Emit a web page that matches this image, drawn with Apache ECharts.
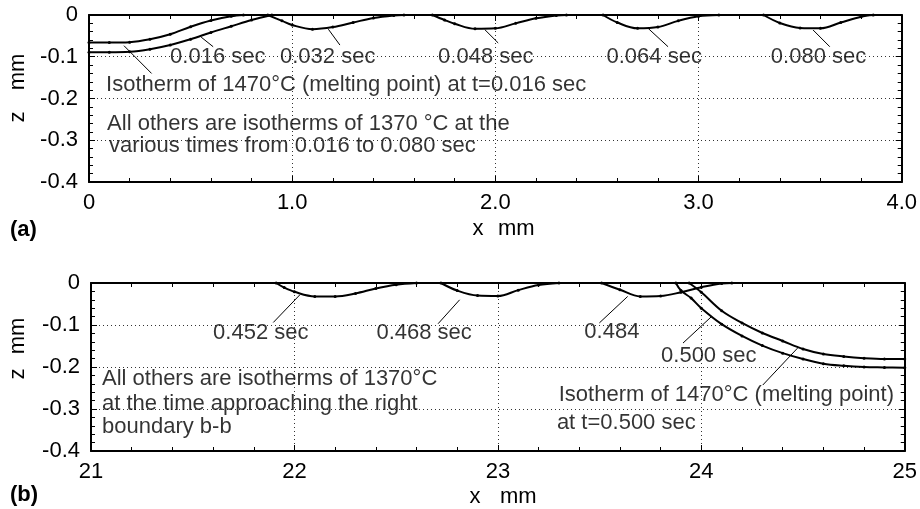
<!DOCTYPE html>
<html>
<head>
<meta charset="utf-8">
<script src="https://cdn.jsdelivr.net/npm/echarts@6/dist/echarts.min.js"></script>
<style>
html, body { margin: 0; padding: 0; background: #fff; }
#main { width: 920px; height: 509px; }
</style>
</head>
<body>
<div id="main"></div>
<script>
// tick labels
var xLabelsA = ['0', '1.0', '2.0', '3.0', '4.0'];
var xLabelsB = ['21', '22', '23', '24', '25'];
var zLabels = ['0', '-0.1', '-0.2', '-0.3', '-0.4'];

// panel (a): [x mm, z mm]
var a1470_016 = [[0, -0.066], [0.1, -0.066], [0.2, -0.065], [0.3, -0.058], [0.4, -0.046], [0.5, -0.028], [0.6, -0.013], [0.7, -0.003], [0.76, 0]];
var a1370_016 = [[0, -0.089], [0.1, -0.089], [0.2, -0.088], [0.3, -0.082], [0.4, -0.072], [0.5, -0.058], [0.6, -0.042], [0.7, -0.027], [0.8, -0.012], [0.9, 0]];
var a1370_032 = [[0.88, 0], [0.95, -0.014], [1.0, -0.024], [1.1, -0.034], [1.2, -0.029], [1.3, -0.018], [1.4, -0.007], [1.5, -0.001], [1.55, 0]];
var a1370_048 = [[1.69, 0], [1.75, -0.012], [1.8, -0.021], [1.9, -0.033], [2.0, -0.032], [2.1, -0.020], [2.2, -0.008], [2.3, -0.001], [2.35, 0]];
var a1370_064 = [[2.53, 0], [2.6, -0.018], [2.7, -0.032], [2.8, -0.029], [2.9, -0.014], [3.0, -0.003], [3.1, 0]];
var a1370_080 = [[3.32, 0], [3.4, -0.019], [3.5, -0.031], [3.6, -0.032], [3.7, -0.018], [3.8, -0.004], [3.86, 0]];

// panel (b)
var b1370_452 = [[21.91, 0], [21.95, -0.011], [22.0, -0.021], [22.1, -0.032], [22.2, -0.032], [22.3, -0.025], [22.4, -0.013], [22.5, -0.004], [22.6, 0]];
var b1370_468 = [[22.72, 0], [22.8, -0.018], [22.9, -0.030], [23.0, -0.031], [23.1, -0.017], [23.2, -0.005], [23.3, 0]];
var b1370_484 = [[23.51, 0], [23.6, -0.016], [23.7, -0.032], [23.8, -0.031], [23.9, -0.022], [24.0, -0.010], [24.1, -0.001], [24.15, 0]];
var b1370_500 = [[23.875, 0], [23.9, -0.018], [23.95, -0.036], [24.0, -0.060], [24.1, -0.098], [24.2, -0.126], [24.3, -0.149], [24.4, -0.167], [24.5, -0.181], [24.6, -0.192], [24.7, -0.197], [24.8, -0.200], [24.9, -0.201], [25.0, -0.202]];
var b1470_500 = [[23.94, 0], [24.0, -0.022], [24.1, -0.066], [24.2, -0.095], [24.3, -0.119], [24.4, -0.138], [24.5, -0.157], [24.6, -0.169], [24.7, -0.175], [24.8, -0.179], [24.9, -0.181], [25.0, -0.181]];

// leader lines (data coords)
var leadersA = [
  [[0.172, -0.0735], [0.308, -0.140]],
  [[0.552, -0.053], [0.611, -0.076]],
  [[1.178, -0.034], [1.235, -0.072]],
  [[1.948, -0.035], [2.014, -0.067]],
  [[2.752, -0.032], [2.850, -0.076]],
  [[3.564, -0.036], [3.646, -0.076]]
];
var leadersB = [
  [[21.896, -0.094], [22.027, -0.028]],
  [[22.706, -0.097], [22.812, -0.040]],
  [[23.499, -0.095], [23.638, -0.032]],
  [[23.910, -0.143], [24.050, -0.080]],
  [[24.302, -0.243], [24.473, -0.155]]
];

// annotations: [x, z, text]
var notesA = [
  [0.399, -0.0994, '0.016 sec'],
  [0.940, -0.0994, '0.032 sec'],
  [1.718, -0.0994, '0.048 sec'],
  [2.547, -0.0994, '0.064 sec'],
  [3.356, -0.0994, '0.080 sec'],
  [0.084, -0.168, 'Isotherm of 1470°C (melting point) at t=0.016 sec'],
  [0.089, -0.261, 'All others are isotherms of 1370 °C at the'],
  [0.098, -0.314, 'various times from 0.016 to 0.080 sec']
];
var notesB = [
  [21.600, -0.1185, '0.452 sec'],
  [22.403, -0.1185, '0.468 sec'],
  [23.425, -0.1155, '0.484'],
  [23.802, -0.1735, '0.500 sec'],
  [23.299, -0.266, 'Isotherm of 1470°C (melting point)'],
  [23.290, -0.334, 'at t=0.500 sec'],
  [21.054, -0.2295, 'All others are isotherms of 1370°C'],
  [21.054, -0.288, 'at the time approaching the right'],
  [21.054, -0.343, 'boundary b-b']
];

var FONT = '"Liberation Sans", Arial, Helvetica, sans-serif';
var INK = '#000';

function xAxisOf(grid, min, max, labels, pos) {
  return {
    type: 'value', gridIndex: grid, min: min, max: max, interval: 1, position: pos,
    axisLine: { show: true, onZero: false, lineStyle: { color: INK, width: 2 } },
    axisTick: { show: true, inside: true, length: 6, lineStyle: { color: INK } },
    minorTick: { show: true, splitNumber: 5, length: 4, lineStyle: { color: INK } },
    splitLine: { show: pos === 'bottom', lineStyle: { color: '#333', type: [1, 3], width: 1 } },
    axisLabel: {
      show: pos === 'bottom', margin: 10, color: INK, fontSize: 22, fontFamily: FONT,
      formatter: function (v) { return labels[Math.round(v - min)]; }
    }
  };
}
function yAxisOf(grid, pos) {
  return {
    type: 'value', gridIndex: grid, min: -0.4, max: 0, interval: 0.1, position: pos,
    axisLine: { show: true, onZero: false, lineStyle: { color: INK, width: 2 } },
    axisTick: { show: true, inside: true, length: 6, lineStyle: { color: INK } },
    minorTick: { show: true, splitNumber: 5, length: 4, lineStyle: { color: INK } },
    splitLine: { show: pos === 'left', lineStyle: { color: '#333', type: [1, 3], width: 1 } },
    axisLabel: {
      show: pos === 'left', margin: 11, color: INK, fontSize: 22, fontFamily: FONT,
      formatter: function (v) { return zLabels[Math.round(-v * 10)]; }
    }
  };
}

function curve(data, g) {
  return {
    type: 'line', xAxisIndex: g * 2, yAxisIndex: g * 2, data: data, smooth: 0.35,
    symbol: 'circle', symbolSize: 3, showSymbol: true,
    itemStyle: { color: INK }, lineStyle: { color: INK, width: 2 },
    silent: true, z: 3
  };
}
function leader(seg, g) {
  return {
    type: 'line', xAxisIndex: g * 2, yAxisIndex: g * 2, data: seg, showSymbol: false,
    lineStyle: { color: INK, width: 1 }, silent: true, z: 3
  };
}
function notes(list, g) {
  return {
    type: 'scatter', xAxisIndex: g * 2, yAxisIndex: g * 2, symbolSize: 0, silent: true, z: 4,
    data: list.map(function (n) { return { value: [n[0], n[1]], name: n[2] }; }),
    label: {
      show: true, position: 'inside', align: 'left', verticalAlign: 'middle',
      color: INK, fontSize: 22, fontFamily: FONT,
      formatter: function (p) { return p.name; }
    }
  };
}

var series = [];
[a1470_016, a1370_016, a1370_032, a1370_048, a1370_064, a1370_080].forEach(function (d) { series.push(curve(d, 0)); });
[b1370_452, b1370_468, b1370_484, b1370_500, b1470_500].forEach(function (d) { series.push(curve(d, 1)); });
leadersA.forEach(function (s) { series.push(leader(s, 0)); });
leadersB.forEach(function (s) { series.push(leader(s, 1)); });
series.push(notes(notesA, 0));
series.push(notes(notesB, 1));

function txt(t, x, y, opts) {
  opts = opts || {};
  return {
    type: 'text', x: x, y: y, rotation: opts.rot || 0, silent: true,
    style: {
      text: t, fill: INK, font: (opts.bold ? 'bold ' : '') + '22px ' + FONT,
      textAlign: opts.align || 'center', textVerticalAlign: 'middle'
    }
  };
}

var myChart = echarts.init(document.getElementById('main'));
var option = {
  animation: false,
  backgroundColor: '#fff',
  grid: [
    { left: 89, top: 15, width: 813, height: 167 },
    { left: 91, top: 283, width: 815, height: 168 }
  ],
  xAxis: [
    xAxisOf(0, 0, 4, xLabelsA, 'bottom'),
    xAxisOf(0, 0, 4, xLabelsA, 'top'),
    xAxisOf(1, 21, 25, xLabelsB, 'bottom'),
    xAxisOf(1, 21, 25, xLabelsB, 'top')
  ],
  yAxis: [
    yAxisOf(0, 'left'),
    yAxisOf(0, 'right'),
    yAxisOf(1, 'left'),
    yAxisOf(1, 'right')
  ],
  graphic: [
    txt('(a)', 10, 230, { bold: true, align: 'left' }),
    txt('(b)', 10, 495, { bold: true, align: 'left' }),
    txt('x', 478, 229),
    txt('mm', 498, 229, { align: 'left' }),
    txt('x', 475, 497),
    txt('mm', 500, 497, { align: 'left' }),
    txt('mm', 18, 72, { rot: Math.PI / 2 }),
    txt('z', 18, 117, { rot: Math.PI / 2 }),
    txt('mm', 18, 336, { rot: Math.PI / 2 }),
    txt('z', 18, 374, { rot: Math.PI / 2 })
  ],
  series: series
};
myChart.setOption(option);
</script>
</body>
</html>
